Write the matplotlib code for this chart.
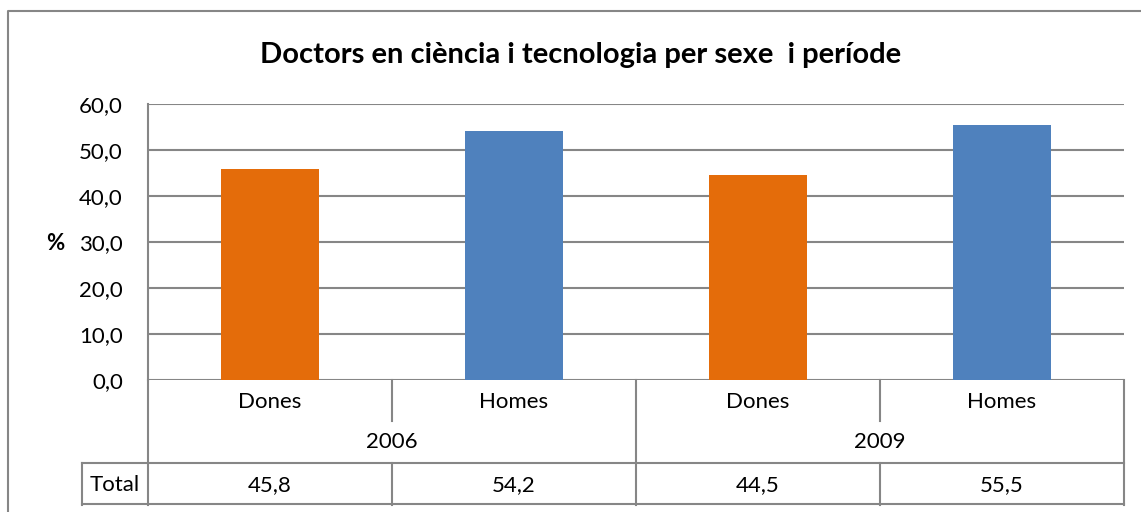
import matplotlib.pyplot as plt
from matplotlib.transforms import blended_transform_factory

# dades
anys = ["2006", "2009"]
sexes = ["Dones", "Homes", "Dones", "Homes"]
valors = [45.8, 54.2, 44.5, 55.5]
etiquetes_valors = ["45,8", "54,2", "44,5", "55,5"]
colors = ["#E46C0A", "#4F81BD", "#E46C0A", "#4F81BD"]
yticks = [0, 10, 20, 30, 40, 50, 60]

W, H = 1141, 512
plt.rcParams["font.family"] = ["Lato", "DejaVu Sans"]
fig = plt.figure(figsize=(W / 100, H / 100), dpi=100)

def fy(py):
    # pixel y (des de dalt) -> fracció de figura
    return 1 - py / H

def fx(px):
    return px / W

fs = 16
ax = fig.add_axes([fx(148), fy(380), fx(1124) - fx(148), fy(104) - fy(380)])
ax.set_xlim(0, len(valors))
ax.set_ylim(0, 60)
xs = [i + 0.5 for i in range(len(valors))]
ax.bar(xs, valors, width=0.4, color=colors, zorder=3)

grid_c = "#868686"
ax.set_yticks(yticks)
ax.set_yticklabels([f"{v:.1f}".replace(".", ",") for v in yticks], fontsize=fs)
ax.tick_params(axis="y", length=0, pad=18)
ax.set_xticks([])
ax.grid(axis="y", color=grid_c, linewidth=1.5, zorder=0)
for s in ["top", "right", "bottom"]:
    ax.spines[s].set_visible(False)
ax.spines["left"].set_color(grid_c)
ax.spines["left"].set_linewidth(1.5)
fig.text(fx(55), fy(243), "%", ha="center", va="center", fontsize=fs, fontweight="bold")

# taula de dades sota l'eix
tr = blended_transform_factory(ax.transData, fig.transFigure)
lw = 1.5
def vline(x, y0, y1):
    ax.plot([x, x], [fy(y0), fy(y1)], color=grid_c, lw=lw, transform=tr, clip_on=False)

vline(0, 380, 505)
vline(len(valors), 380, 505)
vline(2, 380, 505)
for x in [1, 3]:
    vline(x, 380, 421)
    vline(x, 463, 505)
for yy in [463, 504]:
    fig.add_artist(plt.Line2D([fx(82), fx(1124)], [fy(yy), fy(yy)], color=grid_c, lw=lw))
fig.add_artist(plt.Line2D([fx(82), fx(82)], [fy(463), fy(505)], color=grid_c, lw=lw))

for x, s, v in zip(xs, sexes, etiquetes_valors):
    ax.text(x, fy(402), s, transform=tr, ha="center", va="center", fontsize=fs)
    ax.text(x, fy(485), v, transform=tr, ha="center", va="center", fontsize=fs)
for i, a in enumerate(anys):
    ax.text(2 * i + 1, fy(442), a, transform=tr, ha="center", va="center", fontsize=fs)
fig.text(fx(115), fy(485), "Total", ha="center", va="center", fontsize=fs)

fig.text(fx(581), fy(55), "Doctors en ciència i tecnologia per sexe  i període",
         ha="center", va="center", fontsize=21, fontweight="bold")

# marc exterior
fig.add_artist(plt.Line2D([fx(8), fx(8), 1], [0, fy(11), fy(11)], color=grid_c, lw=1.5))

fig.savefig("out.png", dpi=100)
